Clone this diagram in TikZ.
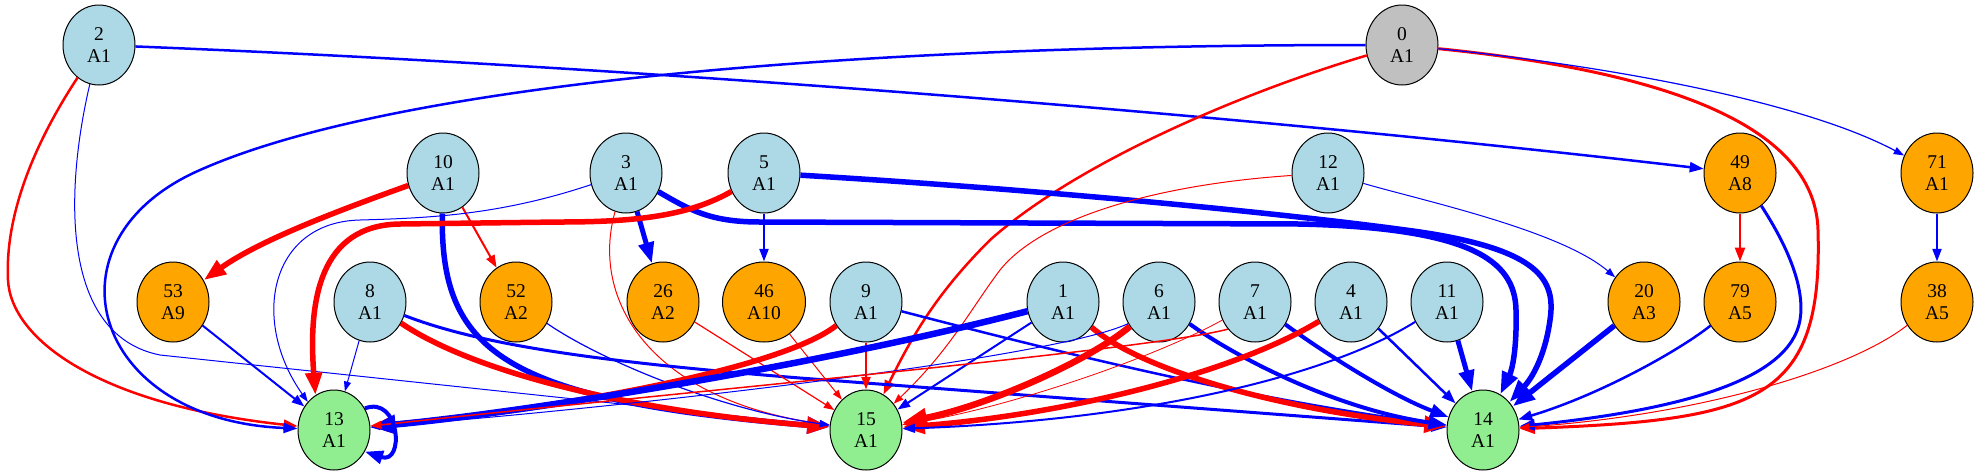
\documentclass[tikz,border=0pt]{standalone}
\usepackage{fontspec}
\setmainfont{Liberation Serif}
\usetikzlibrary{arrows.meta,shapes.geometric}
\definecolor{lbc}{HTML}{ADD8E6}
\definecolor{ogc}{HTML}{FFA500}
\definecolor{lgc}{HTML}{90EE90}
\definecolor{gyc}{HTML}{C0C0C0}
\begin{document}
\begin{tikzpicture}[x=1pt,y=-1pt,
  nd/.style={ellipse,draw=black,line width=1pt,minimum width=72pt,minimum height=80pt,inner sep=0pt,align=center,font=\fontsize{19.5}{21.7}\selectfont},
  lbn/.style={nd,fill=lbc},
  ogn/.style={nd,fill=ogc},
  lgn/.style={nd,fill=lgc},
  gyn/.style={nd,fill=gyc},
  >={Triangle[length=7pt 2.8,width=5pt 2]},
  B/.style={draw=blue,->},
  R/.style={draw=red,->}]
\useasboundingbox (0,0) rectangle (1979,475);
% nodes
\node[lbn] (n2) at (99,45) {2\\A1};
\node[gyn] (n0) at (1402,45) {0\\A1};
\node[lbn] (n10) at (443,173) {10\\A1};
\node[lbn] (n3) at (626,173) {3\\A1};
\node[lbn] (n5) at (764,173) {5\\A1};
\node[lbn] (n12) at (1328,173) {12\\A1};
\node[ogn] (n49) at (1740,173) {49\\A8};
\node[ogn] (n71) at (1937,173) {71\\A1};
\node[ogn] (n53) at (173,302) {53\\A9};
\node[lbn] (n8) at (370,302) {8\\A1};
\node[ogn] (n52) at (516,302) {52\\A2};
\node[ogn] (n26) at (663,302) {26\\A2};
\node[ogn,minimum width=83pt] (n46) at (764,302) {46\\A10};
\node[lbn] (n9) at (866,302) {9\\A1};
\node[lbn] (n1) at (1063,302) {1\\A1};
\node[lbn] (n6) at (1159,302) {6\\A1};
\node[lbn] (n7) at (1255,302) {7\\A1};
\node[lbn] (n4) at (1351,302) {4\\A1};
\node[lbn] (n11) at (1447,302) {11\\A1};
\node[ogn] (n20) at (1644,302) {20\\A3};
\node[ogn] (n79) at (1740,302) {79\\A5};
\node[ogn] (n38) at (1937,302) {38\\A5};
\node[lgn] (n13) at (334,430) {13\\A1};
\node[lgn] (n15) at (866,430) {15\\A1};
\node[lgn] (n14) at (1483,430) {14\\A1};
% edges from 2
\draw[B,line width=2.5pt] (n2) .. controls (600,65) and (1200,110) .. (n49);
\draw[R,line width=2.5pt] (n2) .. controls (30,150) and (5,220) .. (8,280) .. controls (11,340) and (100,405) .. (n13);
\draw[B,line width=1pt] (n2) .. controls (65,190) and (60,335) .. (160,355) -- (n15);
% from 0
\draw[B,line width=2.5pt] (n0) .. controls (800,45) and (380,90) .. (200,170) .. controls (40,240) and (90,420) .. (n13);
\draw[R,line width=2.5pt] (n0) .. controls (1250,90) and (1080,160) .. (990,240) .. controls (940,290) and (915,330) .. (n15);
\draw[R,line width=3pt] (n0) .. controls (1650,70) and (1815,120) .. (1818,230) .. controls (1823,400) and (1760,420) .. (n14);
\draw[B,line width=1.2pt] (n0) .. controls (1600,65) and (1800,100) .. (n71);
% from 10
\draw[R,line width=5.5pt] (n10) .. controls (340,210) and (260,240) .. (n53);
\draw[R,line width=2pt] (n10) -- (n52);
\draw[B,line width=5.5pt] (n10) .. controls (440,350) and (500,400) .. (n15);
% from 3
\draw[B,line width=1pt] (n3) .. controls (500,215) and (430,218) .. (360,220) .. controls (270,222) and (250,320) .. (n13.133);
\draw[B,line width=5pt] (n3) -- (n26);
\draw[R,line width=1pt] (n3) .. controls (590,300) and (650,400) .. (n15);
\draw[B,line width=5.5pt] (n3) .. controls (690,210) and (710,222) .. (760,222) -- (1300,224) .. controls (1470,228) and (1515,260) .. (1516,310) .. controls (1517,350) and (1512,370) .. (n14);
% from 5
\draw[R,line width=5.5pt] (n5) .. controls (690,215) and (640,222) .. (560,222) -- (400,224) .. controls (320,225) and (308,300) .. (n13.118);
\draw[B,line width=2pt] (n5) -- (n46);
\draw[B,line width=5.5pt] (n5) .. controls (1050,190) and (1300,215) .. (1420,232) .. controls (1540,250) and (1556,280) .. (1550,320) .. controls (1546,350) and (1535,375) .. (n14);
% from 12
\draw[R,line width=1pt] (n12) .. controls (1150,185) and (1040,220) .. (1000,270) .. controls (970,310) and (950,350) .. (n15);
\draw[B,line width=1pt] (n12) .. controls (1420,200) and (1560,230) .. (n20);
% from 49, 71
\draw[R,line width=2.5pt] (n49) -- (n79);
\draw[B,line width=3pt] (n49) .. controls (1790,250) and (1805,290) .. (1800,320) .. controls (1790,380) and (1680,410) .. (n14);
\draw[B,line width=2pt] (n71) -- (n38);
% third row
\draw[B,line width=2pt] (n53) -- (n13);
\draw[B,line width=1pt] (n8) -- (n13);
\draw[R,line width=5.5pt] (n8) .. controls (470,370) and (620,410) .. (n15);
\draw[B,line width=3pt] (n8) .. controls (480,345) and (600,362) .. (800,378) -- (n14);
\draw[B,line width=1.2pt] (n52) .. controls (600,360) and (720,410) .. (n15);
\draw[R,line width=1.2pt] (n26) -- (n15);
\draw[R,line width=1pt] (n46) -- (n15);
\draw[R,line width=5.5pt] (n9) .. controls (780,370) and (550,410) .. (n13);
\draw[R,line width=2pt] (n9) -- (n15);
\draw[B,line width=2.5pt] (n9) .. controls (1050,350) and (1250,400) .. (n14);
\draw[B,line width=6.5pt] (n1) .. controls (800,370) and (500,415) .. (n13);
\draw[B,line width=2pt] (n1) -- (n15);
\draw[R,line width=5.5pt] (n1) .. controls (1140,370) and (1280,410) .. (n14);
\draw[R,line width=6.5pt] (n6) .. controls (1090,360) and (990,405) .. (n15);
\draw[B,line width=4pt] (n6) .. controls (1240,360) and (1340,410) .. (n14);
\draw[B,line width=1pt] (n6.215) .. controls (1050,360) and (600,410) .. (n13);
\draw[B,line width=4pt] (n7) .. controls (1320,350) and (1390,395) .. (n14);
\draw[R,line width=1.5pt] (n7.225) .. controls (1150,350) and (700,390) .. (n13);
\draw[R,line width=0.8pt] (n7) .. controls (1150,360) and (1000,410) .. (n15);
\draw[R,line width=5.5pt] (n4) .. controls (1230,375) and (1060,415) .. (n15);
\draw[B,line width=2.5pt] (n4) -- (n14);
\draw[B,line width=2pt] (n11) .. controls (1330,375) and (1150,420) .. (n15);
\draw[B,line width=5pt] (n11) -- (n14);
\draw[B,line width=5.5pt] (n20) -- (n14);
\draw[B,line width=2.5pt] (n79) .. controls (1680,350) and (1600,395) .. (n14);
\draw[R,line width=1pt] (n38) .. controls (1850,370) and (1700,415) .. (n14);
% self loop
\draw[B,line width=4pt] (n13.35) .. controls (400,395) and (405,465) .. (n13.-35);
\end{tikzpicture}
\end{document}
